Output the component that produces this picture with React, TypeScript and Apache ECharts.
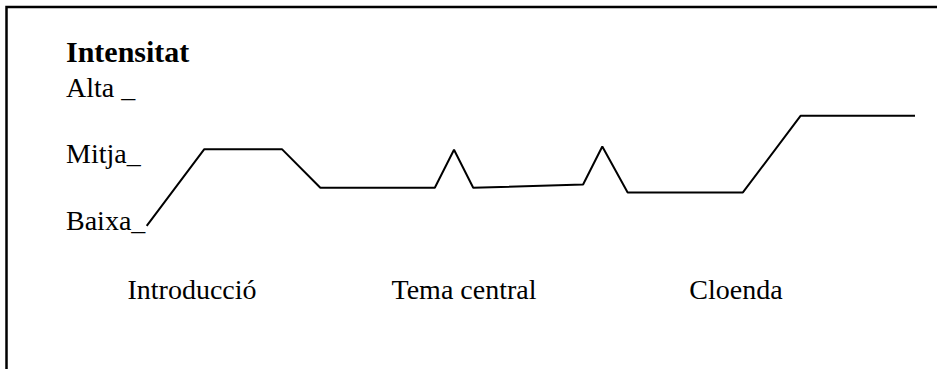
import React, { useEffect, useRef } from "react";
import * as echarts from "echarts";

// Intensity levels (y axis): 1 = Baixa, 2 = Mitja, 3 = Alta
const levelValues = [1, 2, 3];
const levelLabels = ["Baixa_", "Mitja_", "Alta _"];

// Sections of the speech (x axis labels)
const sections = ["Introducció", "Tema central", "Cloenda"];

// Intensity curve: position along the speech (0-100) and intensity
const curveX = [0, 7.5, 17.6, 22.6, 37.5, 40.0, 42.5, 56.8, 59.3, 62.6, 77.6, 85.1, 100];
const curveY = [0.92, 2.07, 2.07, 1.49, 1.49, 2.06, 1.49, 1.54, 2.11, 1.42, 1.42, 2.57, 2.57];

const titleText = "Intensitat";

const FONT = "Liberation Serif, Times New Roman, serif";

export default function App() {
  const ref = useRef<HTMLDivElement>(null);

  useEffect(() => {
    if (!ref.current) return;
    const chart = echarts.init(ref.current, undefined, { renderer: "svg" });
    const labelMap: Record<number, string> = {};
    levelValues.forEach((v, i) => (labelMap[v] = levelLabels[i]));

    chart.setOption({
      animation: false,
      backgroundColor: "#ffffff",
      title: {
        text: titleText,
        left: 66,
        top: 36,
        padding: 0,
        textStyle: { fontFamily: FONT, fontWeight: "bold", fontSize: 30, color: "#000" },
      },
      grid: [
        { left: 146.7, right: 22, top: 20.5, bottom: 81.9 },
        { left: 56, width: 816, top: 200, bottom: 101 },
      ],
      xAxis: [
        {
          type: "value",
          gridIndex: 0,
          min: 0,
          max: 100,
          show: false,
        },
        {
          type: "category",
          gridIndex: 1,
          data: sections,
          boundaryGap: true,
          axisLine: { show: false },
          axisTick: { show: false },
          splitLine: { show: false },
          axisLabel: {
            margin: 7,
            fontFamily: FONT,
            fontSize: 28,
            color: "#000",
          },
        },
      ],
      yAxis: [
        {
          type: "value",
          gridIndex: 0,
          min: 0,
          max: 4,
          interval: 1,
          axisLine: { show: false },
          axisTick: { show: false },
          splitLine: { show: false },
          axisLabel: {
            align: "left",
            margin: 80.7,
            fontFamily: FONT,
            fontSize: 28,
            color: "#000",
            formatter: (v: number) => labelMap[v] ?? "",
          },
        },
        {
          type: "value",
          gridIndex: 1,
          show: false,
        },
      ],
      series: [
        {
          type: "line",
          xAxisIndex: 0,
          yAxisIndex: 0,
          data: curveX.map((x, i) => [x, curveY[i]]),
          symbol: "none",
          clip: false,
          lineStyle: { color: "#000", width: 2 },
        },
      ],
      graphic: [
        {
          type: "polyline",
          shape: { points: [[6.5, 369], [6.5, 7], [937, 7]] },
          style: { stroke: "#000", lineWidth: 2.5, fill: "none" },
          silent: true,
        },
      ],
    });
    return () => chart.dispose();
  }, []);

  return (
    <div
      ref={ref}
      style={{ position: "fixed", left: 0, top: 0, width: 937, height: 369 }}
    />
  );
}
